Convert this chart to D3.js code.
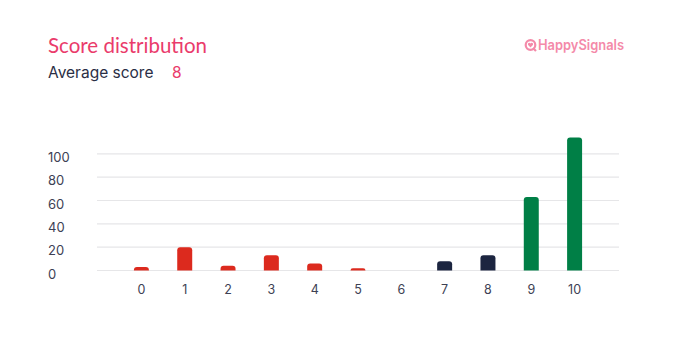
<!DOCTYPE html>
<html>
<head>
<meta charset="utf-8">
<script src="https://cdn.jsdelivr.net/npm/d3@7"></script>
<style>
  body { margin: 0; background: #fff; }
  svg { display: block; font-family: Inter, "Open Sans", sans-serif; }
</style>
</head>
<body>
<svg id="chart" width="688" height="354"></svg>
<script>
let scores = [0, 1, 2, 3, 4, 5, 6, 7, 8, 9, 10]
let counts = [3, 20, 4, 13, 6, 2, 0, 8, 13, 63, 114]
let yTicks = [0, 20, 40, 60, 80, 100]
let average_score = 8
let red = "#dc2a1e", navy = "#1c2540", green = "#007f46"

function barColor(s) {
    if (s <= 6) return red
    if (s <= 8) return navy
    return green
}

let svg = d3.select("#chart")

// header
svg.append("text")
    .attr("x", 48).attr("y", 53)
    .attr("fill", "#ea3b6b")
    .attr("font-family", "Lato, sans-serif")
    .attr("font-size", "20.5px")
    .text("Score distribution")

svg.append("text")
    .attr("x", 48).attr("y", 77.5)
    .attr("fill", "#2a2e45")
    .attr("font-size", "15.5px")
    .text("Average score")

svg.append("text")
    .attr("x", 172).attr("y", 77.5)
    .attr("fill", "#ea3b6b")
    .attr("font-size", "15.5px")
    .text(average_score)

// logo
let logo = svg.append("g").attr("transform", "translate(530.5,45)")
logo.append("circle").attr("r", 4.8).attr("fill", "none").attr("stroke", "#f48aa9").attr("stroke-width", 2.2)
logo.append("path").attr("d", "M2.5,3 L5.5,6").attr("stroke", "#f48aa9").attr("stroke-width", 2.2)
logo.append("path")
    .attr("d", "M0,2.4 L-2.4,0 A1.2,1.2 0 0 1 0,-1.5 A1.2,1.2 0 0 1 2.4,0 Z")
    .attr("fill", "#f48aa9")
svg.append("text")
    .attr("x", 538).attr("y", 50)
    .attr("fill", "#f48aa9")
    .attr("font-size", "14px")
    .attr("font-weight", 600)
    .attr("textLength", 86)
    .attr("lengthAdjust", "spacingAndGlyphs")
    .text("HappySignals")

// scales
let x = d3.scaleBand()
    .domain(scores)
    .range([97, 619])
    .paddingInner(0.654)
    .paddingOuter(0.852)

let y = d3.scaleLinear()
    .domain([0, 100])
    .range([270.5, 153.8])

// gridlines
svg.append("g")
    .selectAll("line")
    .data(yTicks)
    .join("line")
    .attr("x1", 97).attr("x2", 619)
    .attr("y1", d => y(d)).attr("y2", d => y(d))
    .attr("stroke", "#e6e6e8")
    .attr("stroke-width", 1.2)

// y axis labels
let yAxis = d3.axisLeft(y).tickValues(yTicks).tickSize(0).tickPadding(0)
let gy = svg.append("g").attr("transform", "translate(48,0)").call(yAxis)
gy.select(".domain").remove()
gy.selectAll("text")
    .attr("text-anchor", "start")
    .attr("dy", "0.6em")
    .attr("fill", "#3d4154")
    .attr("font-size", "13px")
    .attr("font-family", "Inter, sans-serif")

// x axis labels
let xAxis = d3.axisBottom(x).tickSize(0).tickPadding(0)
let gx = svg.append("g").attr("transform", "translate(0,285)").call(xAxis)
gx.select(".domain").remove()
gx.selectAll("text")
    .attr("fill", "#3d4154")
    .attr("font-size", "12.5px")
    .attr("font-family", "Inter, sans-serif")

// bars with rounded tops
function barPath(d, i) {
    let x0 = x(scores[i]), w = x.bandwidth()
    let y0 = y(0), y1 = y(d)
    let h = y0 - y1
    if (h <= 0) return ""
    let r = Math.min(3, h, w / 2)
    return "M" + x0 + "," + y0 +
        "V" + (y1 + r) +
        "Q" + x0 + "," + y1 + " " + (x0 + r) + "," + y1 +
        "H" + (x0 + w - r) +
        "Q" + (x0 + w) + "," + y1 + " " + (x0 + w) + "," + (y1 + r) +
        "V" + y0 + "Z"
}

svg.append("g")
    .selectAll("path")
    .data(counts)
    .join("path")
    .attr("d", (d, i) => barPath(d, i))
    .attr("fill", (d, i) => barColor(scores[i]))
</script>
</body>
</html>
